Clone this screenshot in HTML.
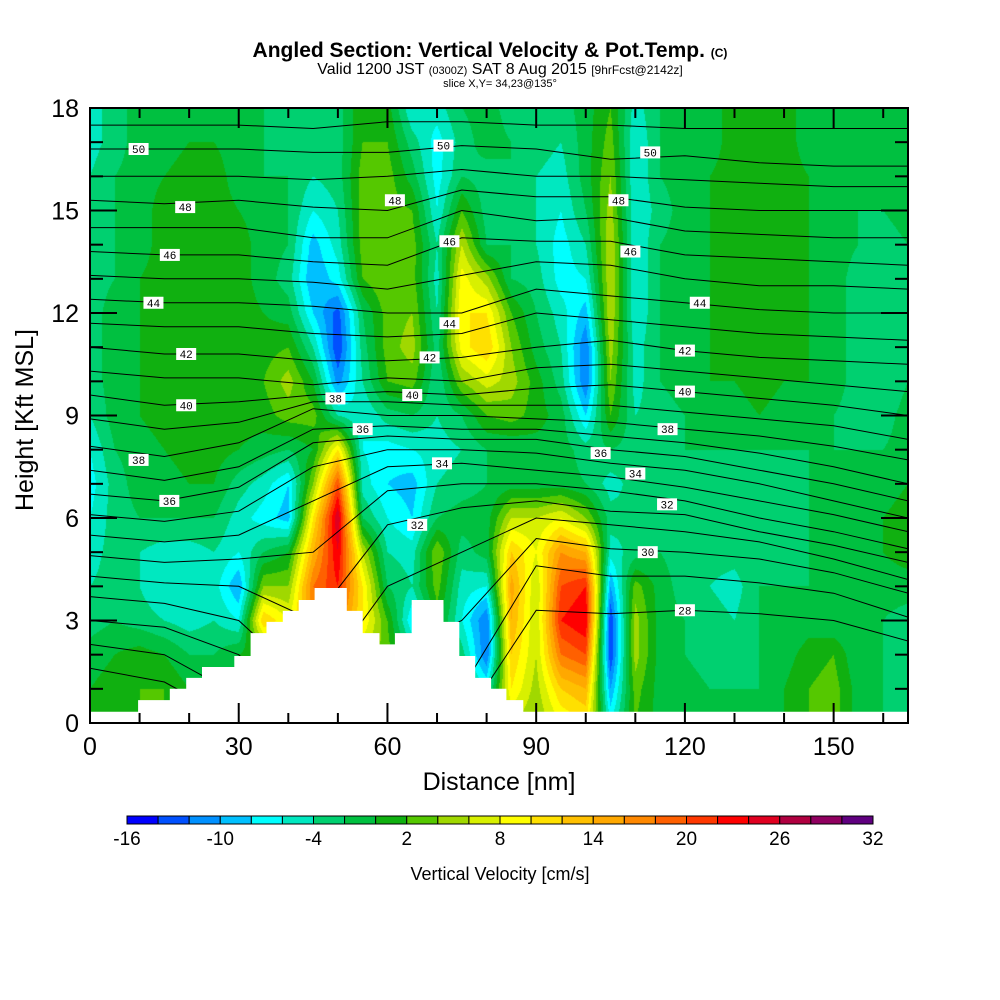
<!DOCTYPE html>
<html><head><meta charset="utf-8"><title>Angled Section</title>
<style>
html,body{margin:0;padding:0;background:#fff;}
#wrap{position:relative;width:1000px;height:1000px;overflow:hidden;font-family:"Liberation Sans",sans-serif;}
canvas{position:absolute;left:90px;top:108px;}
svg{position:absolute;left:0;top:0;}
</style></head>
<body>
<div id="wrap">
<canvas id="field" width="818" height="615"></canvas>
<svg id="svg" width="1000" height="1000">
  <text x="490" y="57" text-anchor="middle" font-size="21" font-weight="bold">Angled Section: Vertical Velocity &amp; Pot.Temp. <tspan font-size="12">(C)</tspan></text>
  <text x="500" y="74" text-anchor="middle" font-size="16">Valid 1200 JST <tspan font-size="11">(0300Z)</tspan> SAT 8 Aug 2015 <tspan font-size="12">[9hrFcst@2142z]</tspan></text>
  <text x="500" y="87" text-anchor="middle" font-size="11">slice X,Y= 34,23@135°</text>
  <text x="499" y="790" text-anchor="middle" font-size="25">Distance [nm]</text>
  <text transform="translate(33,420) rotate(-90)" text-anchor="middle" font-size="25">Height [Kft MSL]</text>
  <text x="500" y="880" text-anchor="middle" font-size="18">Vertical Velocity [cm/s]</text>
  <defs><clipPath id="plotClip"><rect x="90" y="108" width="818" height="615"/></clipPath></defs>
  <g id="lines" clip-path="url(#plotClip)"></g>
  <g id="terrain"></g>
  <g id="labels"></g>
  <g id="axes"></g>
  <g id="cbar"></g>
</svg>
</div>
<script>
// ---- data ----
const gridDistance = [0,5,10,15,20,25,30,35,40,45,50,55,60,65,70,75,80,85,90,95,100,105,110,115,120,125,130,135,140,145,150,155,160,165];
const gridHeight = [18,17,16,15,14,13,12,11,10,9,8,7,6,5,4,3,2,1,0];
const wRows = [
[-5,-3,-1,-1,-1,-1,-1,-2,-3,-2,-3,2,1,-6,-5,-2,-1,-3,-3,-3,-1,2,-5,-2,-1,-1,1,1,1,-1,-1,-1,-1,-1],
[-5,-3,-1,-1,0,0,-1,-2,-3,-3,-3,2,2,-3,-7,-3,-1,-2,-3,-4,-1,3,-6,-2,-1,-1,1,1,1,-1,-1,-1,-1,-1],
[-4,-2,-1,0,1,1,-1,-2,-2,-4,-3,3,3,-1,-7,-2,-3,-2,-4,-5,-1,4,-6,-2,-1,0,1,1,1,0,-1,-1,-1,-1],
[-4,-2,-1,1,1,1,0,-1,-2,-6,-4,3,3,2,-6,2,-3,-2,-4,-6,-2,5,-6,-3,-1,0,1,1,1,0,-1,-2,-2,-1],
[-4,-2,-1,1,1,1,1,-1,-2,-9,-5,3,4,3,-4,6,-2,-2,-4,-7,-4,6,-6,-2,-1,0,1,1,1,0,-1,-2,-3,-2],
[-3,-2,0,1,1,1,1,-1,-3,-10,-7,2,4,3,-5,9,5,-2,-3,-7,-6,6,-6,-2,-1,0,1,1,1,0,-1,-3,-3,-2],
[-3,-1,0,1,1,1,1,0,-1,-8,-13,-2,3,4,-4,10,10,2,-2,-5,-9,6,-6,-2,-1,0,1,1,1,0,-1,-3,-4,-2],
[-3,-1,0,1,1,1,1,1,2,-4,-14,-3,3,5,-3,9,12,4,-1,-4,-12,5,-5,-2,-1,0,1,1,1,0,-1,-3,-4,-2],
[-3,-1,0,1,1,1,1,2,5,0,-11,-4,2,3,-4,4,7,5,1,-3,-12,4,-5,-2,-1,0,0,1,0,0,-1,-3,-4,-2],
[-4,-1,0,1,1,1,1,1,3,3,-4,-6,-3,-2,-4,-2,2,3,1,-1,-8,2,-4,-3,-2,-1,-1,0,-1,-1,-2,-3,-3,-1],
[-6,-2,-1,0,1,1,0,-1,-2,0,10,-6,-7,-6,-5,-4,-2,-2,-1,-1,-3,-2,-3,-3,-2,-2,-2,-2,-2,-2,-2,-2,-2,-1],
[-7,-3,-1,-1,0,0,-3,-5,-8,4,20,-5,-8,-9,-4,-3,-2,-1,-1,-1,-2,-5,-3,-3,-3,-3,-2,-3,-3,-2,-2,-2,-1,0],
[-6,-3,-2,-2,-2,-2,-5,-7,-9,10,26,-2,-6,-8,-2,-1,-1,6,6,8,4,-3,-4,-2,-3,-4,-3,-2,-3,-2,-2,-1,0,1],
[-5,-3,-4,-5,-5,-4,-6,-2,0,14,24,6,-4,-5,4,-3,-1,12,8,16,14,-5,-3,-2,-3,-3,-3,-2,-3,-2,-2,-1,0,1],
[-4,-3,-4,-6,-6,-5,-10,4,4,18,22,10,-2,-4,3,-5,-6,15,6,20,22,-10,3,-1,-3,-4,-5,-2,-2,-2,-2,-1,-1,-1],
[-3,-2,-3,-4,-5,-4,-6,12,8,16,18,10,2,-8,1,-6,-12,14,6,22,24,-14,5,-1,-2,-3,-4,-2,-2,-1,-2,-2,-2,-3],
[-1,0,1,0,-2,-2,0,2,8,10,10,6,3,-3,0,-3,-12,12,6,18,20,-14,5,-1,-2,-3,-3,-2,-1,1,2,-2,-2,-3],
[0,1,2,2,0,-1,1,3,5,6,6,4,3,-1,0,-1,-6,10,5,12,14,-10,3,-1,-1,-2,-2,-2,0,2,3,-1,-2,-3],
[0,1,2,2,1,0,1,3,4,5,5,4,2,0,0,0,-3,6,4,8,10,-6,2,-1,-1,-2,-2,-2,0,2,3,-1,-2,-3]
];
const colorLevels = [-16,-14,-12,-10,-8,-6,-4,-2,0,2,4,6,8,10,12,14,16,18,20,22,24,26,28,30,32];
const colorList = ["#0000ff","#0050ff","#0090ff","#00c0ff","#00ffff","#00e8c0","#00d070","#00c040","#10b010","#55c800","#a0d800","#d8f000","#ffff00","#ffe000","#ffc000","#ffa800","#ff8800","#ff6000","#ff3800","#ff0000","#e00020","#b00040","#900060","#600080"];
const cbarLabels = [-16,-10,-4,2,8,14,20,26,32];
const thetaNodes = [0,15,30,45,60,75,90,105,120,135,150,165];
const thetaLevels = [51,50,49,48,47,46,45,44,43,42,41,40,39,38,37,36,35,34,33,32,31,30,29,28];
const thetaHeights = [
[17.5,17.5,17.5,17.4,17.6,17.6,17.5,17.5,17.4,17.4,17.4,17.4],
[16.8,16.8,16.8,16.7,16.7,16.9,16.8,16.5,16.6,16.4,16.3,16.3],
[16.0,16.0,16.0,15.9,16.0,16.2,16.0,16.0,15.9,15.8,15.7,15.7],
[15.3,15.2,15.3,15.1,15.0,15.6,15.4,15.4,15.1,15.0,15.0,15.0],
[14.5,14.5,14.5,14.2,14.2,15.0,14.7,14.8,14.4,14.3,14.2,14.2],
[13.8,13.7,13.7,13.5,13.4,14.2,14.1,14.1,13.7,13.6,13.5,13.4],
[13.1,13.0,13.0,12.9,12.7,13.1,13.5,13.4,13.0,12.8,12.8,12.7],
[12.4,12.3,12.3,12.2,12.0,12.0,12.7,12.5,12.3,12.1,12.0,12.0],
[11.7,11.6,11.6,11.4,11.3,11.4,12.0,11.8,11.6,11.4,11.3,11.2],
[11.0,10.8,10.8,10.6,10.6,10.7,11.0,11.2,10.9,10.7,10.6,10.5],
[10.3,10.1,10.1,9.9,10.1,10.0,10.4,10.5,10.3,10.1,9.9,9.7],
[9.6,9.3,9.4,9.6,9.7,9.6,9.8,9.9,9.7,9.5,9.3,9.0],
[8.9,8.6,8.8,9.4,9.4,9.3,9.3,9.3,9.1,8.9,8.7,8.3],
[8.1,7.8,8.2,9.2,9.0,9.0,8.9,8.8,8.6,8.4,8.1,7.7],
[7.4,7.1,7.5,8.6,8.7,8.6,8.6,8.4,8.2,7.9,7.5,7.0],
[6.7,6.5,6.9,8.2,8.4,8.3,8.3,8.0,7.8,7.4,7.0,6.5],
[6.1,5.9,6.2,7.5,8.0,8.0,7.9,7.6,7.4,7.0,6.5,6.0],
[5.5,5.3,5.5,6.5,7.5,7.6,7.4,7.2,6.9,6.5,6.1,5.6],
[4.9,4.7,4.8,5.0,6.8,7.0,7.0,6.8,6.5,6.0,5.6,5.1],
[4.3,4.1,4.0,3.0,5.8,6.3,6.5,6.2,6.1,5.6,5.2,4.7],
[3.7,3.5,3.0,1.0,4.0,5.0,6.0,5.8,5.6,5.3,4.8,4.2],
[3.0,2.8,2.0,0,2.0,3.0,5.4,5.1,5.0,4.8,4.4,3.8],
[2.3,2.0,0.8,0,0,1.0,4.6,4.3,4.3,4.1,3.8,3.1],
[1.6,1.2,0,0,0,0,3.3,3.2,3.3,3.2,3.0,2.4]
];
const labelValues = [50,50,50,48,48,48,46,46,46,44,44,44,42,42,42,40,40,40,38,38,38,36,36,36,34,34,32,32,30,28];
const labelNm = [9.8,71.3,113,19.2,61.5,106.6,16.1,72.5,109,12.8,72.5,123,19.4,68.5,120,19.4,65,120,9.8,49.5,116.5,16,55,103,71,110,66,116.4,112.5,120];
const labelKft = [16.8,16.9,16.7,15.1,15.3,15.3,13.7,14.1,13.8,12.3,11.7,12.3,10.8,10.7,10.9,9.3,9.6,9.7,7.7,9.5,8.6,6.5,8.6,7.9,7.6,7.3,5.8,6.4,5.0,3.3];
const terrainStart = [9.7,16.1,19.4,22.6,29.1,32.4,35.6,38.9,42.1,45.3,51.8,55,58.4,61.5,64.9,71.3,74.5,77.7,80.9,84];
const terrainEnd = [16.1,19.4,22.6,29.1,32.4,35.6,38.9,42.1,45.3,51.8,55,58.4,61.5,64.9,71.3,74.5,77.7,80.9,84,87.4];
const terrainTop = [0.67,1.0,1.32,1.64,1.96,2.63,2.96,3.28,3.6,3.95,3.28,2.63,2.3,2.63,3.6,2.96,1.96,1.32,1.0,0.67];
const terrainBase = 0.33;

// ---- scales ----
const X0=90,X1=908,Y0=723,Y1=108,XMAX=165,YMAX=18;
function xs(nm){return X0+(X1-X0)*nm/XMAX;}
function ys(k){return Y0-(Y0-Y1)*k/YMAX;}
const NS="http://www.w3.org/2000/svg";
function mk(tag,attrs,parent){const e=document.createElementNS(NS,tag);for(const k in attrs)e.setAttribute(k,attrs[k]);parent.appendChild(e);return e;}

// ---- field ----
function valueAt(nm,k){
  const dx=gridDistance[1]-gridDistance[0];
  let i=Math.min(gridDistance.length-2,Math.max(0,Math.floor(nm/dx)));
  let fx=(nm-gridDistance[i])/dx;
  let r=Math.min(gridHeight.length-2,Math.max(0,Math.floor(YMAX-k)));
  let fy=(gridHeight[r]-k);
  const a=wRows[r][i],b=wRows[r][i+1],c=wRows[r+1][i],d=wRows[r+1][i+1];
  return (a*(1-fx)+b*fx)*(1-fy)+(c*(1-fx)+d*fx)*fy;
}
(function(){
  const cv=document.getElementById('field');const ctx=cv.getContext('2d');
  const W=cv.width,H=cv.height;const img=ctx.createImageData(W,H);
  const rgb=colorList.map(h=>[parseInt(h.substr(1,2),16),parseInt(h.substr(3,2),16),parseInt(h.substr(5,2),16)]);
  for(let py=0;py<H;py++){const k=YMAX*(H-py-0.5)/H;
    for(let px=0;px<W;px++){const nm=XMAX*(px+0.5)/W;const v=valueAt(nm,k);
      let ci=0;while(ci<colorList.length-1&&v>=colorLevels[ci+1])ci++;
      const o=(py*W+px)*4;img.data[o]=rgb[ci][0];img.data[o+1]=rgb[ci][1];img.data[o+2]=rgb[ci][2];img.data[o+3]=255;}}
  ctx.putImageData(img,0,0);
})();

// ---- theta contours ----
const gl=document.getElementById('lines');
thetaLevels.forEach((lv,li)=>{
  const pts=thetaNodes.map((n,j)=>xs(n).toFixed(1)+','+ys(thetaHeights[li][j]).toFixed(1)).join(' ');
  const pl=mk('polyline',{points:pts,fill:'none',stroke:'#000','stroke-width':'1'},gl);
  
  
});
// ---- terrain (single path) ----
const gt=document.getElementById('terrain');
(function(){
  let d='M'+xs(0)+','+Y0+' L'+xs(0)+','+ys(terrainBase)+' L'+xs(terrainStart[0])+','+ys(terrainBase);
  terrainStart.forEach((s,i)=>{d+=' L'+xs(s).toFixed(1)+','+ys(terrainTop[i]).toFixed(1)+' L'+xs(terrainEnd[i]).toFixed(1)+','+ys(terrainTop[i]).toFixed(1);});
  d+=' L'+xs(terrainEnd[terrainEnd.length-1]).toFixed(1)+','+ys(terrainBase)+' L'+xs(XMAX)+','+ys(terrainBase)+' L'+xs(XMAX)+','+Y0+' Z';
  const p=mk('path',{d:d,fill:'#fff',stroke:'none'},gt);
  
  
})();
// ---- labels ----
const glb=document.getElementById('labels');
labelValues.forEach((v,i)=>{
  const cx=xs(labelNm[i]),cy=ys(labelKft[i]);
  const g=mk('g',{},glb);
  
  
  mk('rect',{x:cx-10,y:cy-6,width:20,height:12,fill:'#fff'},g);
  const t=mk('text',{x:cx,y:cy+4,'text-anchor':'middle','font-size':'11','font-family':'Liberation Mono, monospace'},g);
  t.textContent=v;
});
// ---- axes ----
const ga=document.getElementById('axes');
mk('rect',{x:X0,y:Y1,width:X1-X0,height:Y0-Y1,fill:'none',stroke:'#000','stroke-width':'2'},ga);
const xMajor=[0,30,60,90,120,150];
for(let v=0;v<=160;v+=10){const x=xs(v);const L=xMajor.includes(v)?20:10;
  mk('line',{x1:x,y1:Y0,x2:x,y2:Y0-L,stroke:'#000','stroke-width':'2'},ga);
  mk('line',{x1:x,y1:Y1,x2:x,y2:Y1+L,stroke:'#000','stroke-width':'2'},ga);}
xMajor.forEach(v=>{const t=mk('text',{x:xs(v),y:755,'text-anchor':'middle','font-size':'25'},ga);
  
  
  t.textContent=v;});
for(let v=0;v<=18;v++){const y=ys(v);const L=(v%3===0)?27:13;
  mk('line',{x1:X0,y1:y,x2:X0+L,y2:y,stroke:'#000','stroke-width':'2'},ga);
  mk('line',{x1:X1,y1:y,x2:X1-L,y2:y,stroke:'#000','stroke-width':'2'},ga);}
[0,3,6,9,12,15,18].forEach(v=>{const t=mk('text',{x:79,y:ys(v)+9,'text-anchor':'end','font-size':'25'},ga);
  
  
  t.textContent=v;});
// ---- colorbar ----
const gc=document.getElementById('cbar');
const CB0=127,CB1=873,cw=(CB1-CB0)/colorList.length;
colorList.forEach((c,i)=>{const r=mk('rect',{x:CB0+i*cw,y:816,width:cw,height:8,fill:c,stroke:'#000','stroke-width':'1'},gc);
  
  });
cbarLabels.forEach(v=>{const x=CB0+(v-colorLevels[0])/(colorLevels[colorLevels.length-1]-colorLevels[0])*(CB1-CB0);
  const t=mk('text',{x:x,y:845,'text-anchor':'middle','font-size':'19'},gc);
  
  
  t.textContent=v;});
</script>
</body></html>
